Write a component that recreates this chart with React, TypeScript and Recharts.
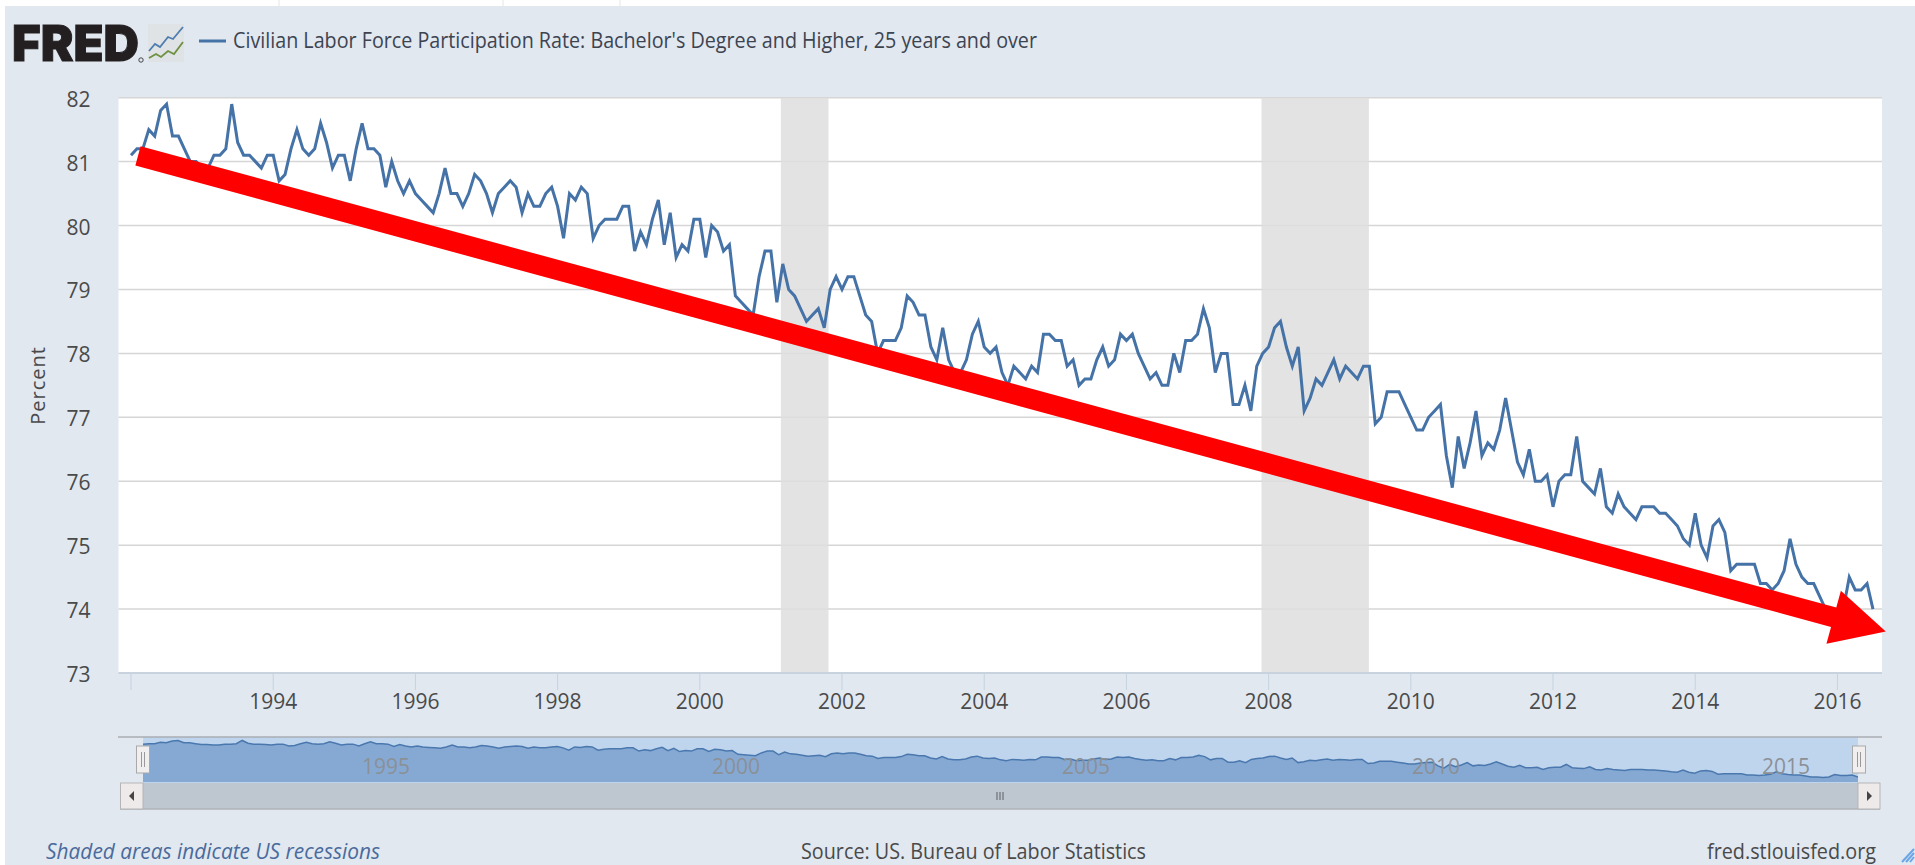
import React from 'react';
import { ComposedChart, AreaChart, Area, Line, XAxis, YAxis, CartesianGrid, ReferenceArea, ReferenceLine, Legend } from 'recharts';

const START_YEAR = 1992;
const participation: number[] = [
  81.1,81.2,81.2,81.5,81.4,81.8,81.9,81.4,81.4,81.2,81.0,81.0,
  80.9,80.9,81.1,81.1,81.2,81.9,81.3,81.1,81.1,81.0,80.9,81.1,
  81.1,80.7,80.8,81.2,81.5,81.2,81.1,81.2,81.6,81.3,80.9,81.1,
  81.1,80.7,81.2,81.6,81.2,81.2,81.1,80.6,81.0,80.7,80.5,80.7,
  80.5,80.4,80.3,80.2,80.5,80.9,80.5,80.5,80.3,80.5,80.8,80.7,
  80.5,80.2,80.5,80.6,80.7,80.6,80.2,80.5,80.3,80.3,80.5,80.6,
  80.3,79.8,80.5,80.4,80.6,80.5,79.8,80.0,80.1,80.1,80.1,80.3,
  80.3,79.6,79.9,79.7,80.1,80.4,79.7,80.2,79.5,79.7,79.6,80.1,
  80.1,79.5,80.0,79.9,79.6,79.7,78.9,78.8,78.7,78.6,79.2,79.6,
  79.6,78.8,79.4,79.0,78.9,78.7,78.5,78.6,78.7,78.4,79.0,79.2,
  79.0,79.2,79.2,78.9,78.6,78.5,78.0,78.2,78.2,78.2,78.4,78.9,
  78.8,78.6,78.6,78.1,77.9,78.4,77.9,77.7,77.7,77.9,78.3,78.5,
  78.1,78.0,78.1,77.7,77.5,77.8,77.7,77.6,77.8,77.7,78.3,78.3,
  78.2,78.2,77.8,77.9,77.5,77.6,77.6,77.9,78.1,77.8,77.9,78.3,
  78.2,78.3,78.0,77.8,77.6,77.7,77.5,77.5,78.0,77.7,78.2,78.2,
  78.3,78.7,78.4,77.7,78.0,78.0,77.2,77.2,77.5,77.1,77.8,78.0,
  78.1,78.4,78.5,78.1,77.8,78.1,77.1,77.3,77.6,77.5,77.7,77.9,
  77.6,77.8,77.7,77.6,77.8,77.8,76.9,77.0,77.4,77.4,77.4,77.2,
  77.0,76.8,76.8,77.0,77.1,77.2,76.4,75.9,76.7,76.2,76.6,77.1,
  76.4,76.6,76.5,76.8,77.3,76.8,76.3,76.1,76.5,76.0,76.0,76.1,
  75.6,76.0,76.1,76.1,76.7,76.0,75.9,75.8,76.2,75.6,75.5,75.8,
  75.6,75.5,75.4,75.6,75.6,75.6,75.5,75.5,75.4,75.3,75.1,75.0,
  75.5,75.0,74.8,75.3,75.4,75.2,74.6,74.7,74.7,74.7,74.7,74.4,
  74.4,74.3,74.4,74.6,75.1,74.7,74.5,74.4,74.4,74.2,74.0,74.0,
  73.9,74.0,74.5,74.3,74.3,74.4,74.0,
];
const seriesName = "Civilian Labor Force Participation Rate: Bachelor's Degree and Higher, 25 years and over";
const yearTicks = [1992,1994,1996,1998,2000,2002,2004,2006,2008,2010,2012,2014,2016];
const valueTicks = [73,74,75,76,77,78,79,80,81,82];
const navigatorTicks = [1995,2000,2005,2010,2015];
const recessions: [number, number][] = [[2001.14, 2001.81],[2007.9, 2009.41]];
const trendStart = { x: 1992.098, y: 81.09 };
const trendEnd = { x: 2016.68, y: 73.65 };

const rows = participation.map((value, i) => ({ year: START_YEAR + i / 12, value }));

const FONT = '"Open Sans", sans-serif';
const BLUE = '#4572A7';
const INK = '#4a4a4a';

const TrendArrow = (p: any) => {
  const { x1, y1, x2, y2 } = p;
  const dx = x2 - x1, dy = y2 - y1;
  const len = Math.hypot(dx, dy);
  const ux = dx / len, uy = dy / len, nx = -uy, ny = ux;
  const bx = x2 - ux * 54, by = y2 - uy * 54;
  const sw = 10, hw = 27.5;
  const pts = [
    [x1 + nx * sw, y1 + ny * sw],[bx + nx * sw, by + ny * sw],[bx + nx * hw, by + ny * hw],[x2, y2],
    [bx - nx * hw, by - ny * hw],[bx - nx * sw, by - ny * sw],[x1 - nx * sw, y1 - ny * sw],
  ].map((q) => q.join(',')).join(' ');
  return <polygon points={pts} fill="#ff0000" />;
};

const TitleLegend = () => (
  <svg width={980} height={40} style={{ display: 'block' }}>
    <line x1={0} x2={27} y1={20} y2={20} stroke={BLUE} strokeWidth={3} />
    <text x={34} y={27} fontFamily={FONT} fontSize={21} fill="#3d4450" textLength={804} lengthAdjust="spacingAndGlyphs">{seriesName}</text>
  </svg>
);

const NavTick = (p: any) => (
  <text x={p.x + 9} y={37} fontFamily={FONT} fontSize={21} fill="#8b9097" textAnchor="start">{p.payload.value}</text>
);

const ValueTick = (p: any) => (
  <text x={p.x} y={p.y + 9} fontFamily={FONT} fontSize={21} fill={INK} textAnchor="end">{p.payload.value}</text>
);

const Handle = ({ x }: { x: number }) => (
  <g>
    <rect x={x - 6.5} y={746} width={13} height={27} fill="#f0eeee" stroke="#a9a9a9" strokeWidth={1} />
    <line x1={x - 1.5} x2={x - 1.5} y1={752} y2={767} stroke="#999" />
    <line x1={x + 1.5} x2={x + 1.5} y1={752} y2={767} stroke="#999" />
  </g>
);

export default function App() {
  return (
    <div style={{ position: 'absolute', left: 0, top: 0, width: 1915, height: 865, background: '#ffffff', overflow: 'hidden' }}>
      <div style={{ position: 'absolute', left: 5, top: 6, width: 1910, height: 859, background: '#e1e8f0' }} />

      <div style={{ position: 'absolute', left: 0, top: 0 }}>
        <ComposedChart width={1915} height={865} data={rows} margin={{ top: 97.7, right: 33, left: 0, bottom: 0 }}>
          <CartesianGrid vertical={false} horizontal stroke="#d6d6d6" strokeWidth={1.5} fill="#ffffff" />
          {recessions.map(([a, b]) => (
            <ReferenceArea key={a} x1={a} x2={b} y1={73} y2={82} fill="#dedede" fillOpacity={0.85} stroke="none" />
          ))}
          <XAxis
            dataKey="year" type="number" domain={[1991.824, 2016.627]} ticks={yearTicks} interval={0} height={192}
            tickFormatter={(v: number) => (v === START_YEAR ? '' : String(v))}
            tick={{ fontFamily: FONT, fontSize: 21, fill: INK }} tickSize={17} tickMargin={4}
            tickLine={{ stroke: '#c6d2de' }} axisLine={{ stroke: '#c0cfdf', strokeWidth: 1.5 }}
          />
          <YAxis
            type="number" domain={[73, 82]} ticks={valueTicks} interval={0} width={118.5}
            tick={ValueTick} tickLine={false} axisLine={false} tickMargin={22}
            label={{ value: 'Percent', angle: -90, position: 'insideLeft', offset: 38, style: { fontFamily: FONT, fontSize: 20, fill: INK, letterSpacing: 1, textAnchor: 'middle' } }}
          />
          <Legend layout="horizontal" verticalAlign="middle" align="center" content={TitleLegend}
            wrapperStyle={{ position: 'absolute', left: 199, top: 21, width: 980, height: 40, bottom: 'auto', right: 'auto', margin: 0 }} />
          <Line dataKey="value" name={seriesName} type="linear" stroke={BLUE} strokeWidth={3} dot={false} isAnimationActive={false} />
          <ReferenceLine ifOverflow="visible" segment={[trendStart, trendEnd]} shape={TrendArrow} />
        </ComposedChart>
      </div>

      <div style={{ position: 'absolute', left: 143, top: 737, width: 1715, height: 46, background: '#bfd5ee' }} />
      <div style={{ position: 'absolute', left: 143, top: 737 }}>
        <AreaChart width={1715} height={46} data={rows} margin={{ top: 0, right: 0, left: 0, bottom: 0 }}>
          <XAxis dataKey="year" type="number" domain={[1992, 2016.5]} ticks={navigatorTicks} interval={0} height={1} axisLine={false} tickLine={false} tick={NavTick} />
          <YAxis type="number" domain={[72.9, 82.65]} hide />
          <Area dataKey="value" type="linear" stroke="#4a78ae" strokeWidth={1.5} fill="#86a9d3" fillOpacity={1} isAnimationActive={false} />
        </AreaChart>
      </div>

      <svg width={1915} height={865} style={{ position: 'absolute', left: 0, top: 0, pointerEvents: 'none' }}>
        <line x1={279} x2={279} y1={0} y2={6} stroke="#e6e6e6" />
        <line x1={503} x2={503} y1={0} y2={6} stroke="#e6e6e6" />
        <line x1={620} x2={620} y1={0} y2={6} stroke="#e6e6e6" />
        <text x={12} y={61} fontFamily="Inter, 'Liberation Sans', sans-serif" fontWeight={900} fontSize={50} fill="#231f20" stroke="#231f20" strokeWidth={1} textLength={127} lengthAdjust="spacingAndGlyphs">FRED</text>
        <circle cx={141} cy={60} r={2.2} fill="none" stroke="#231f20" strokeWidth={0.8} />
        <rect x={148} y={24} width={36} height={38} fill="#dfe3e6" />
        <polyline points="149,51 155,44 160,47 168,37 173,39 183,27" fill="none" stroke="#4f7dad" strokeWidth={1.8} />
        <polyline points="149,58 156,54 161,57 168,51 174,54 183,42" fill="none" stroke="#6f9140" strokeWidth={1.8} />

        <line x1={118} x2={1882} y1={737} y2={737} stroke="#a9adb3" strokeWidth={1.5} />
        <rect x={143} y={783} width={1715} height={26} fill="#bec6cf" />
        <line x1={120} x2={1880} y1={809} y2={809} stroke="#aeb3b9" strokeWidth={1.5} />
        <rect x={120.5} y={783} width={22.5} height={26} fill="#eeeaea" stroke="#b5b5b5" />
        <rect x={1858} y={783} width={22} height={26} fill="#eeeaea" stroke="#b5b5b5" />
        <polygon points="129,796 134,791 134,801" fill="#444" />
        <polygon points="1872,796 1867,791 1867,801" fill="#444" />
        <line x1={997} x2={997} y1={792} y2={800} stroke="#5c6167" />
        <line x1={1000} x2={1000} y1={792} y2={800} stroke="#5c6167" />
        <line x1={1003} x2={1003} y1={792} y2={800} stroke="#5c6167" />
        <Handle x={143} />
        <Handle x={1859} />

        <text x={46} y={859} fontFamily={FONT} fontStyle="italic" fontSize={21} fill="#4a6b9c" textLength={334} lengthAdjust="spacingAndGlyphs">Shaded areas indicate US recessions</text>
        <text x={801} y={859} fontFamily={FONT} fontSize={21} fill={INK} textLength={345} lengthAdjust="spacingAndGlyphs">Source: US. Bureau of Labor Statistics</text>
        <text x={1707} y={859} fontFamily={FONT} fontSize={21} fill={INK} textLength={169} lengthAdjust="spacingAndGlyphs">fred.stlouisfed.org</text>
        <line x1={1902} x2={1914} y1={862} y2={849} stroke="#6aa5e6" strokeWidth={2} />
        <line x1={1906} x2={1914} y1={862} y2={853} stroke="#6aa5e6" strokeWidth={2} />
        <line x1={1910} x2={1914} y1={862} y2={857} stroke="#6aa5e6" strokeWidth={2} />
      </svg>
    </div>
  );
}
